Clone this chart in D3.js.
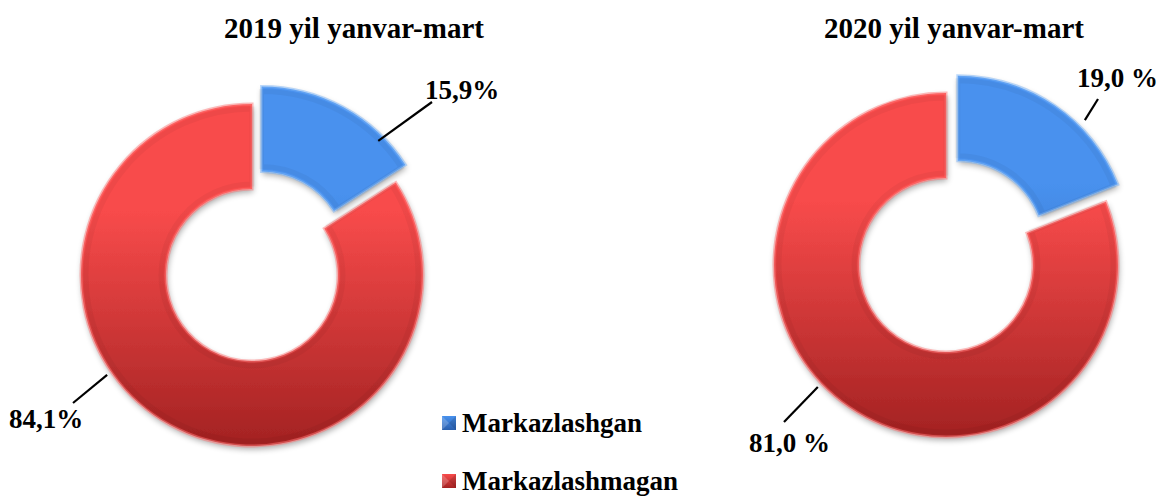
<!DOCTYPE html>
<html><head><meta charset="utf-8">
<script src="https://cdn.jsdelivr.net/npm/d3@7"></script>
<style>
html,body{margin:0;padding:0;background:#fff;}
svg{display:block;}
</style></head>
<body>
<svg id="c" width="1158" height="497"></svg>
<script>
// ---- data ----
const categories = ["Markazlashgan", "Markazlashmagan"];
const titles = ["2019 yil yanvar-mart", "2020 yil yanvar-mart"];
const values2019 = [15.9, 84.1];
const values2020 = [19.0, 81.0];
const labels2019 = ["15,9%", "84,1%"];
const labels2020 = ["19,0 %", "81,0 %"];

// ---- layout ----
const FONT = "Liberation Serif, DejaVu Serif, serif";
const svg = d3.select("#c");
const charts = [
  {title: titles[0], values: values2019, labels: labels2019, cx: 252, cy: 275, R: 171, r: 86, explode: 20,
   titleX: 354, titleY: 38,
   lab: [{ang: 45, rad: 165, tx: 425, ty: 99, lx: 432, ly: 102},
         {ang: 235.4, rad: 176, tx: 9, ty: 428, lx: 73, ly: 403}]},
  {title: titles[1], values: values2020, labels: labels2020, cx: 946, cy: 265, R: 172, r: 87, explode: 21,
   titleX: 954, titleY: 38,
   lab: [{ang: 44.9, rad: 180, tx: 1077, ty: 87, lx: 1098, ly: 99},
         {ang: 226.4, rad: 177, tx: 749, ty: 452, lx: 784, ly: 422}]}
];
const colors = {
  0: {top: "#4891ee", bot: "#2a5fae", edge: "#7ab4f7"},
  1: {top: "#f84b4b", bot: "#a32222", edge: "#ff7a7a"}
};

const defs = svg.append("defs");
charts.forEach((c, ci) => {
  categories.forEach((cat, i) => {
    const g = defs.append("linearGradient").attr("id", `g${ci}_${i}`)
      .attr("gradientUnits", "userSpaceOnUse")
      .attr("x1", 0).attr("y1", -c.R - 20).attr("x2", 0).attr("y2", c.R);
    g.append("stop").attr("offset", "0%").attr("stop-color", colors[i].top);
    g.append("stop").attr("offset", "35%").attr("stop-color", colors[i].top);
    g.append("stop").attr("offset", "100%").attr("stop-color", colors[i].bot);
  });
});
const f = defs.append("filter").attr("id", "sh").attr("x", "-20%").attr("y", "-20%").attr("width", "140%").attr("height", "140%");
f.append("feGaussianBlur").attr("in", "SourceAlpha").attr("stdDeviation", 3).attr("result", "b");
f.append("feOffset").attr("in", "b").attr("dx", 1).attr("dy", 3).attr("result", "o");
f.append("feComponentTransfer").attr("in", "o").attr("result", "o2")
  .append("feFuncA").attr("type", "linear").attr("slope", 0.35);
const fm = f.append("feMerge");
fm.append("feMergeNode").attr("in", "o2");
fm.append("feMergeNode").attr("in", "SourceGraphic");

categories.forEach((cat, i) => {
  const g = defs.append("linearGradient").attr("id", `lg${i}`).attr("x1", 0).attr("y1", 0).attr("x2", 0).attr("y2", 1);
  g.append("stop").attr("offset", "0%").attr("stop-color", colors[i].top);
  g.append("stop").attr("offset", "100%").attr("stop-color", colors[i].bot);
});

const pie = d3.pie().sort(null).value(d => d);
const rad = Math.PI / 180;

function txt(x, y, s, size, anchor) {
  return svg.append("text").attr("x", x).attr("y", y).attr("text-anchor", anchor || "start")
    .attr("font-family", FONT).attr("font-weight", "bold").attr("font-size", size).attr("fill", "#000").text(s);
}

charts.forEach((c, ci) => {
  const arcs = pie(c.values);
  const arc = d3.arc().innerRadius(c.r).outerRadius(c.R);
  const inner = d3.arc().innerRadius(c.r + 5).outerRadius(c.R - 5);
  const g = svg.append("g").attr("transform", `translate(${c.cx},${c.cy})`);

  arcs.forEach((a, i) => {
    const mid = (a.startAngle + a.endAngle) / 2;
    const off = i === 0 ? c.explode : 0;
    const dx = Math.sin(mid) * off, dy = -Math.cos(mid) * off;
    const sg = g.append("g").attr("transform", `translate(${dx},${dy})`);
    sg.append("path").attr("d", arc(a)).attr("fill", `url(#g${ci}_${i})`).attr("filter", "url(#sh)");
    sg.append("path").attr("d", arc(a)).attr("fill", "none")
      .attr("stroke", colors[i].edge).attr("stroke-width", 3).attr("stroke-opacity", 0.5);
    sg.append("path").attr("d", inner(a)).attr("fill", "none")
      .attr("stroke", "#000").attr("stroke-width", 5).attr("stroke-opacity", 0.04);

    const L = c.lab[i];
    const sx = dx + Math.sin(L.ang * rad) * L.rad;
    const sy = dy - Math.cos(L.ang * rad) * L.rad;
    g.append("line").attr("x1", sx).attr("y1", sy)
      .attr("x2", L.lx - c.cx).attr("y2", L.ly - c.cy)
      .attr("stroke", "#000").attr("stroke-width", 2.2);
    txt(L.tx, L.ty, c.labels[i], 27);
  });

  txt(c.titleX, c.titleY, c.title, 29, "middle");
});

// legend
const legY = [432, 490];
categories.forEach((cat, i) => {
  const x = 442, y = legY[i] - 16, s = 14;
  svg.append("rect").attr("x", x).attr("y", y).attr("width", s).attr("height", s).attr("fill", `url(#lg${i})`);
  svg.append("path").attr("d", `M${x},${y}L${x + s / 2},${y + s / 2}L${x},${y + s}Z`).attr("fill", "#fff").attr("opacity", 0.2);
  svg.append("path").attr("d", `M${x + s},${y}L${x + s / 2},${y + s / 2}L${x + s},${y + s}Z`).attr("fill", "#000").attr("opacity", 0.12);
  txt(462, legY[i], cat, 27);
});
</script>
</body></html>
